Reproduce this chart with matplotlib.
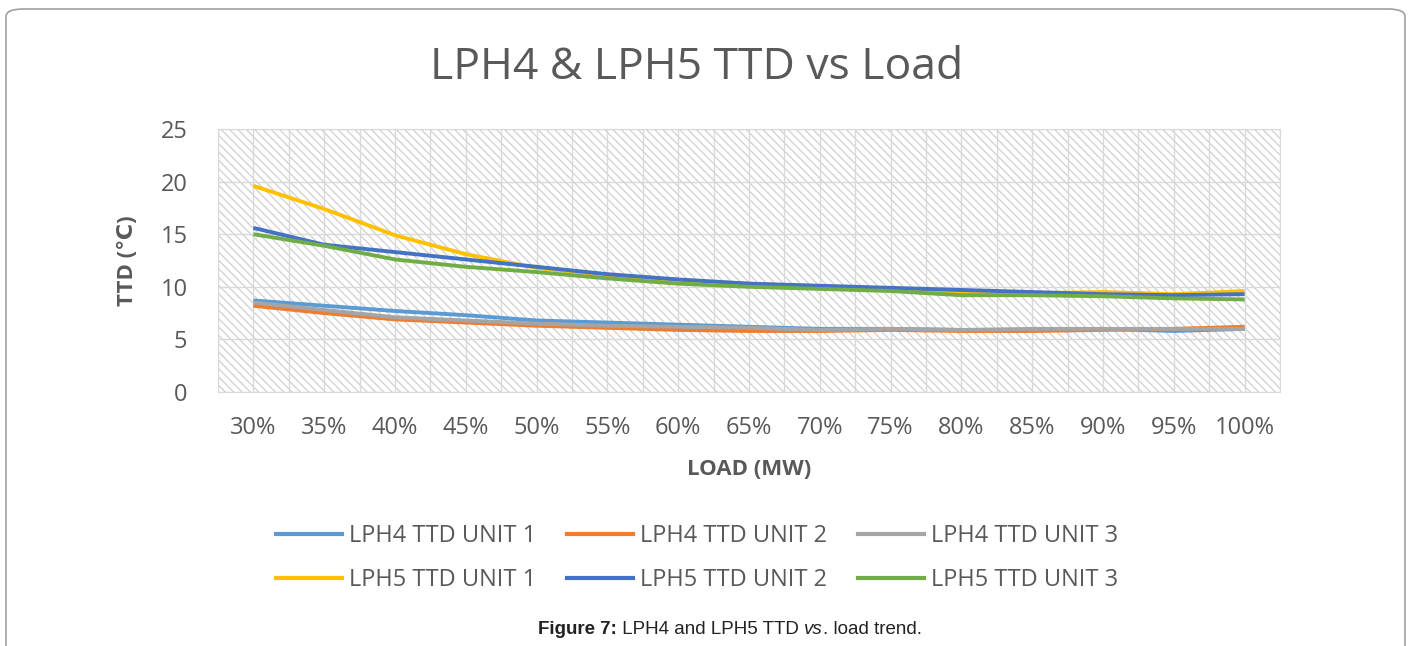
import matplotlib.pyplot as plt
from matplotlib.patches import Rectangle, FancyBboxPatch
from matplotlib.lines import Line2D

# load categories
loads = ['30%', '35%', '40%', '45%', '50%', '55%', '60%', '65%',
         '70%', '75%', '80%', '85%', '90%', '95%', '100%']

# TTD values
lph4_unit1 = [8.7, 8.2, 7.7, 7.3, 6.8, 6.6, 6.4, 6.2, 6.0, 6.0, 5.9, 5.9, 6.0, 5.8, 6.0]
lph4_unit2 = [8.2, 7.5, 6.9, 6.6, 6.3, 6.1, 5.9, 5.8, 5.8, 5.9, 5.8, 5.8, 5.9, 6.0, 6.2]
lph4_unit3 = [8.5, 7.8, 7.1, 6.8, 6.5, 6.3, 6.2, 6.1, 5.9, 6.0, 5.9, 6.0, 6.0, 6.0, 6.0]
lph5_unit1 = [19.6, 17.4, 14.9, 13.1, 11.8, 11.1, 10.6, 10.3, 10.0, 9.8, 9.5, 9.4, 9.5, 9.3, 9.6]
lph5_unit2 = [15.6, 14.0, 13.3, 12.6, 11.9, 11.2, 10.7, 10.3, 10.1, 9.9, 9.7, 9.5, 9.3, 9.2, 9.3]
lph5_unit3 = [15.0, 13.9, 12.6, 11.9, 11.4, 10.8, 10.3, 10.0, 9.8, 9.6, 9.2, 9.2, 9.1, 8.9, 8.8]

series = [
    ('LPH4 TTD UNIT 1', lph4_unit1, '#5b9bd5'),
    ('LPH4 TTD UNIT 2', lph4_unit2, '#ed7d31'),
    ('LPH4 TTD UNIT 3', lph4_unit3, '#a5a5a5'),
    ('LPH5 TTD UNIT 1', lph5_unit1, '#ffc000'),
    ('LPH5 TTD UNIT 2', lph5_unit2, '#4472c4'),
    ('LPH5 TTD UNIT 3', lph5_unit3, '#70ad47'),
]

plt.rcParams['hatch.color'] = '#d4d4d4'
plt.rcParams['hatch.linewidth'] = 1.0
text_col = '#595959'

fig = plt.figure(figsize=(14.13, 6.46), dpi=100)

# outer frame of the figure box
frame = FancyBboxPatch((6 / 1413, -0.1), 1399 / 1413, 1.1 - 9 / 646,
                       boxstyle='round,pad=0,rounding_size=0.012',
                       transform=fig.transFigure, fill=False,
                       edgecolor='#a0a0a0', linewidth=1.2)
fig.patches.append(frame)

ax = fig.add_axes([218 / 1413, 1 - 392 / 646, 1062 / 1413, 263 / 646])
x = list(range(len(loads)))

# hatched plot area like the excel pattern fill
ax.add_patch(Rectangle((0, 0), 1, 1, transform=ax.transAxes, facecolor='white',
                       hatch='\\\\\\\\', edgecolor='#d4d4d4', linewidth=0, zorder=0))

for label, vals, col in series:
    ax.plot(x, vals, color=col, linewidth=2.8, label=label, zorder=3,
            solid_capstyle='butt')

ax.set_xlim(-0.5, len(loads) - 0.5)
ax.set_ylim(0, 25)
ax.set_yticks(range(0, 26, 5))
ax.set_xticks(x)
ax.set_xticklabels(loads)
ax.set_xticks([i + 0.5 for i in range(-1, len(loads))], minor=True)
ax.grid(True, which='both', axis='x', color='#d9d9d9', linewidth=1.0, zorder=1)
ax.grid(True, which='major', axis='y', color='#d9d9d9', linewidth=1.0, zorder=1)
ax.set_axisbelow(True)
for s in ax.spines.values():
    s.set_color('#d9d9d9')
ax.tick_params(which='both', length=0)
ax.tick_params(axis='x', pad=17, labelsize=17, labelcolor=text_col)
ax.tick_params(axis='y', pad=22, labelsize=17, labelcolor=text_col)
for t in ax.get_xticklabels() + ax.get_yticklabels():
    t.set_family('Open Sans')

ax.set_xlabel('LOAD (MW)', fontsize=16, fontweight='bold', color=text_col,
              family='Open Sans', labelpad=14)
ax.set_ylabel('TTD (℃)', fontsize=16, fontweight='bold', color=text_col,
              family=['Open Sans', 'DejaVu Sans'], labelpad=16)

fig.text(697 / 1413, 1 - 68 / 646, 'LPH4 & LPH5 TTD vs Load', ha='center', va='center',
         fontsize=32, color=text_col, family='Open Sans')

# legend fills row by row in the reference
order = [0, 3, 1, 4, 2, 5]
handles = [Line2D([], [], color=series[i][2], linewidth=3) for i in order]
labels = [series[i][0] for i in order]
fig.legend(handles, labels, ncol=3, loc='center',
           bbox_to_anchor=(697 / 1413, 1 - 558 / 646), frameon=False,
           prop={'family': 'Open Sans', 'size': 17}, labelcolor=text_col,
           handlelength=2.8, handletextpad=0.3, columnspacing=1.3,
           labelspacing=0.85)

# caption built from pieces: bold, regular, italic, regular
fig.canvas.draw()
renderer = fig.canvas.get_renderer()
pieces = [('Figure 7:', 'bold', 'normal'), (' LPH4 and LPH5 TTD ', 'normal', 'normal'),
          ('vs', 'normal', 'italic'), ('. load trend.', 'normal', 'normal')]
texts = []
for s, w, st in pieces:
    t = fig.text(0, 1 - 630 / 646, s, ha='left', va='center', fontsize=13.5,
                 fontweight=w, fontstyle=st, color='#222222', family='Liberation Sans')
    texts.append(t)
widths = [t.get_window_extent(renderer).width for t in texts]
start = 730 - sum(widths) / 2
for t, w in zip(texts, widths):
    t.set_x(start / 1413)
    start += w

plt.savefig('out.png', dpi=100)
